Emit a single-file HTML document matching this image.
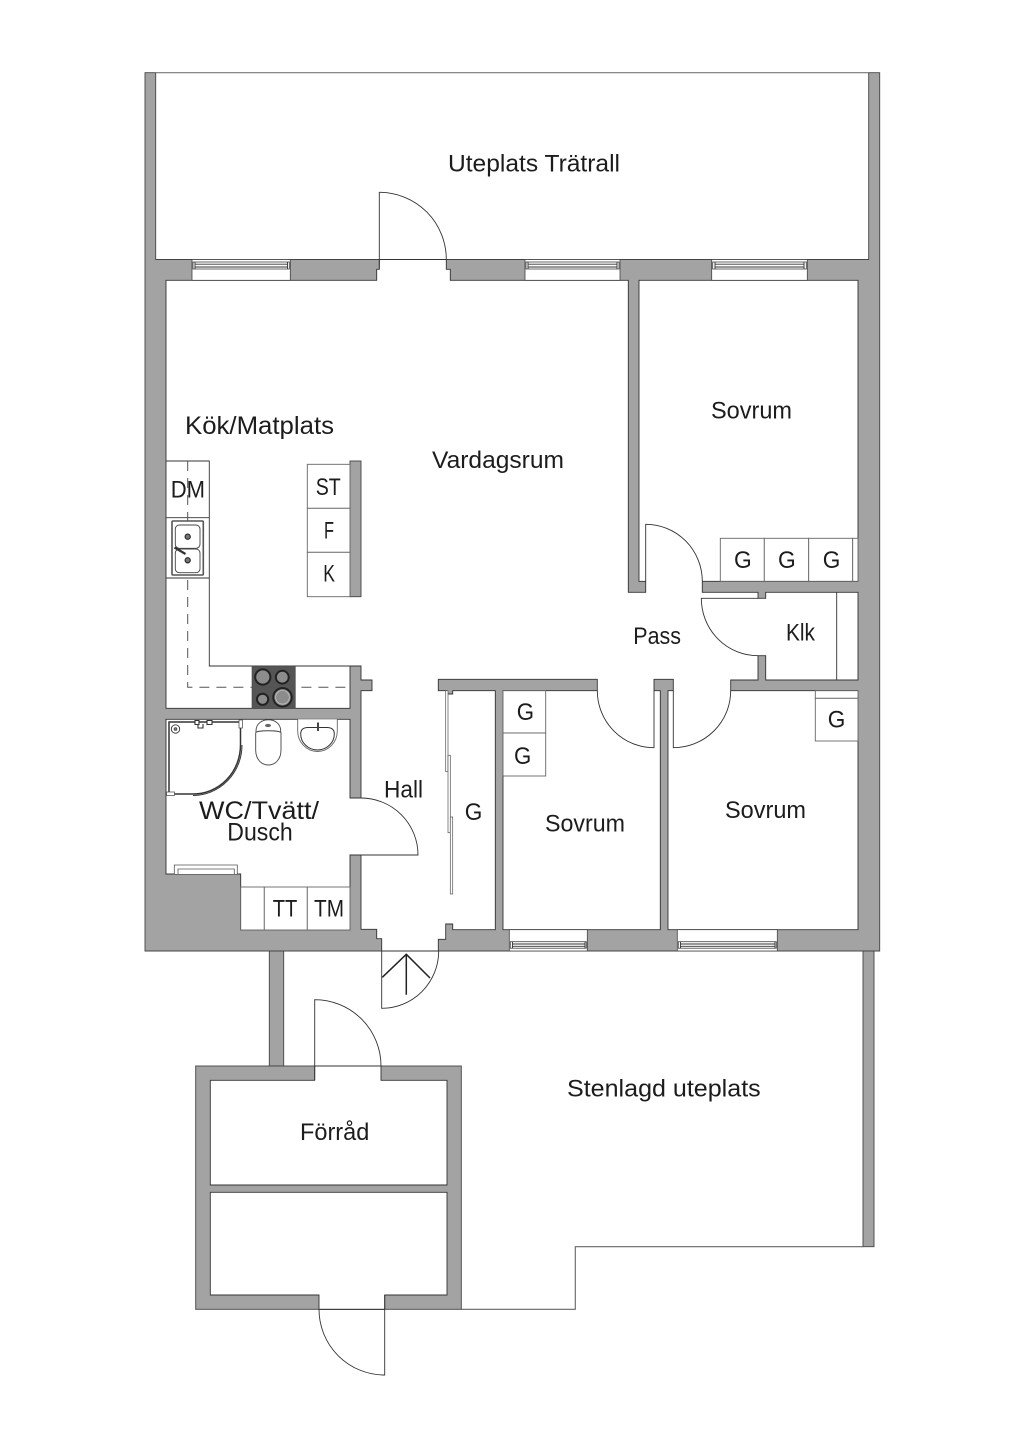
<!DOCTYPE html>
<html>
<head>
<meta charset="utf-8">
<style>
html,body{margin:0;padding:0;background:#fff;}
svg{display:block;}
text{font-family:"Liberation Sans",sans-serif;fill:#1c1c1c;font-size:24px;}
.w{fill:#a3a3a3;stroke:#444;stroke-width:.9;}
.r{fill:#fff;stroke:#333;stroke-width:.9;stroke-linejoin:miter;}
.d{fill:none;stroke:#333;stroke-width:.9;}
.c{fill:#fff;stroke:#666;stroke-width:.9;}
.s{fill:#fff;stroke:#444;stroke-width:.8;}
</style>
</head>
<body>
<svg width="1024" height="1448" viewBox="0 0 1024 1448" xmlns="http://www.w3.org/2000/svg">
<rect width="1024" height="1448" fill="#fff"/>

<!-- lower terrace walls -->
<rect class="w" x="269.3" y="951" width="14.4" height="115"/>
<rect class="w" x="863" y="951" width="11" height="295.7"/>
<path d="M461.3,1309.3H575.3V1246.7H863" fill="none" stroke="#666" stroke-width="1.1"/>

<!-- main building -->
<path class="w" d="M145,72.7H155.7V259.5H868.7V72.7H879.7V951H145Z"/>
<path d="M155.7,72.7H868.7" stroke="#777" stroke-width="1.2" fill="none"/>

<!-- interior -->
<path class="r" d="M166,280.3H376.7V269.3H379.3V259.5H446.3V269.3H450.3V280.3H628.3V592.3H645.7V581.3H639V280.3H858V581.3H702.3V592.3H758V598.3H765.7V592.3H858V680H765.7V655.7H758V680H730.7V690.7H858V929.7H668V690.7H673.3V679.3H654V690.7H660.3V929.7H503V690.7H597.3V679.3H438.3V690.7H446.7V694H452.7V690.7H495.3V929.7H452.7V924H445.7V939.3H438.3V951H381.7V938.7H376.7V929.3H361V855H350V930H240.7V874H166V719.3H350V798H361V690.7H372V680H361V666H350V708.3H166Z"/>

<!-- island wall -->
<rect class="w" x="350" y="461" width="11" height="135.7"/>

<!-- windows top -->
<g>
<rect class="s" x="192" y="259.5" width="98.3" height="20.8"/>
<rect class="s" x="193" y="262" width="96.3" height="7"/>
<path class="d" d="M195,264.2H287.5M195,267H287.5M195,262V269M287.5,262V269" stroke-width=".6"/>
<rect class="s" x="525" y="259.5" width="95" height="20.8"/>
<rect class="s" x="526" y="262" width="93" height="7"/>
<path class="d" d="M528,264.2H617M528,267H617M528,262V269M617,262V269" stroke-width=".6"/>
<rect class="s" x="711.7" y="259.5" width="95.6" height="20.8"/>
<rect class="s" x="712.7" y="262" width="93.6" height="7"/>
<path class="d" d="M715,264.2H804M715,267H804M715,262V269M804,262V269" stroke-width=".6"/>
</g>
<!-- windows bottom -->
<g>
<rect class="s" x="509.3" y="929.7" width="78" height="21.3"/>
<rect class="s" x="510.3" y="941.7" width="76" height="6.5"/>
<path class="d" d="M512.5,944H585M512.5,946.3H585M512.5,941.7V948M585,941.7V948" stroke-width=".6"/>
<rect class="s" x="677.3" y="929.7" width="100" height="21.3"/>
<rect class="s" x="678.3" y="941.7" width="98" height="6.5"/>
<path class="d" d="M680.5,944H775M680.5,946.3H775M680.5,941.7V948M775,941.7V948" stroke-width=".6"/>
</g>

<!-- doors -->
<path class="d" d="M379.3,269V192.3A67,67 0 0 1 446.3,259.5M379.3,259.5H446.3"/>
<path class="d" d="M645.7,581.3V524.3A56.6,57 0 0 1 702.3,581.3"/>
<path class="d" d="M758,598.3H701.3A56.7,57.4 0 0 0 758,655.7"/>
<path class="d" d="M597.3,690.7A56.7,57 0 0 0 654,747.7V690.7"/>
<path class="d" d="M730.7,690.7A57.4,57 0 0 1 673.3,747.7V690.7"/>
<path class="d" d="M350,798H361A57,57 0 0 1 418,855H350"/>
<path class="d" d="M381.7,951V1008.3A57,57.3 0 0 0 438.7,951M381.7,951H438.7"/>
<path d="M406.3,954V994.7M382.3,977.3L406.3,954.3L430,978" fill="none" stroke="#222" stroke-width="1.5"/>

<!-- sliding doors -->
<g fill="#fff" stroke="#555" stroke-width=".7">
<rect x="445.7" y="690.7" width="2.3" height="81"/>
<rect x="448" y="755.3" width="2.3" height="77.4"/>
<rect x="450.3" y="817" width="2.4" height="77"/>
</g>

<!-- kitchen counter -->
<path class="d" d="M166,461H209.3V666H350" stroke="#666"/>
<path class="d" d="M166,517.7H209.3M166,578H209.3" stroke="#666"/>
<path d="M187.7,461V687.3H350" fill="none" stroke="#555" stroke-width="1" stroke-dasharray="10,7"/>

<!-- sink -->
<rect x="172" y="521" width="31.3" height="54" rx="1" fill="#fff" stroke="#555" stroke-width="1.6"/>
<rect x="175.3" y="525" width="24.7" height="23.3" rx="4" fill="#fff" stroke="#444" stroke-width=".9"/>
<rect x="175.3" y="549" width="24.7" height="23.7" rx="4" fill="#fff" stroke="#444" stroke-width=".9"/>
<circle cx="187.7" cy="536.7" r="2.6" fill="#777" stroke="#222" stroke-width="1.1"/>
<circle cx="187.7" cy="560.3" r="2.6" fill="#777" stroke="#222" stroke-width="1.1"/>
<path d="M174.5,547.5L185.5,554" stroke="#333" stroke-width="2.2" fill="none"/>

<!-- stove -->
<rect x="252" y="666" width="43.3" height="42.3" fill="#555" stroke="#444" stroke-width=".6"/>
<g fill="#8c8c8c" stroke="#222" stroke-width="2">
<circle cx="262.8" cy="677" r="7.6"/>
<circle cx="282.3" cy="677.2" r="6.4"/>
<circle cx="262.6" cy="699.3" r="5.6"/>
<circle cx="282.5" cy="697.3" r="9.2"/>
</g>
<circle cx="282.5" cy="697.3" r="6.8" fill="none" stroke="#ccc" stroke-width=".6"/>

<!-- island cabinets -->
<rect class="c" x="307.3" y="464.3" width="42.7" height="44"/>
<rect class="c" x="307.3" y="508.3" width="42.7" height="44"/>
<rect class="c" x="307.3" y="552.3" width="42.7" height="44.4"/>

<!-- wardrobes -->
<rect class="c" x="720.3" y="538.3" width="44" height="43"/>
<rect class="c" x="764.3" y="538.3" width="44.4" height="43"/>
<rect class="c" x="808.7" y="538.3" width="44" height="43"/>
<rect class="c" x="852.7" y="538.3" width="5.3" height="43"/>
<rect class="c" x="815.3" y="690.7" width="42.7" height="7.6"/>
<rect class="c" x="815.3" y="698.3" width="42.7" height="42.7"/>
<rect class="c" x="503" y="690.7" width="42.7" height="42.3"/>
<rect class="c" x="503" y="733" width="42.7" height="43"/>
<path class="d" d="M836.7,592.3V680" stroke="#666"/>

<!-- laundry cabinets -->
<rect class="c" x="240.7" y="887" width="23.6" height="43"/>
<rect class="c" x="264.3" y="887" width="43" height="43"/>
<rect class="c" x="307.3" y="887" width="42.7" height="43"/>

<!-- WC small window -->
<path d="M174.3,874V865H237.3V874M178,874V869H234.3V874" fill="#fff" stroke="#555" stroke-width=".8"/>

<!-- shower -->
<path d="M169,722H240.5V745A47,49 0 0 1 193,794H169Z" fill="#fff" stroke="#333" stroke-width="1.5"/>
<path d="M242,745A49,50.5 0 0 1 193,795.5" fill="none" stroke="#333" stroke-width="1"/>
<rect x="166.5" y="792" width="8" height="3.5" fill="#fff" stroke="#444" stroke-width=".7"/>
<rect x="239" y="720" width="3.5" height="8" fill="#fff" stroke="#444" stroke-width=".7"/>
<circle cx="175.5" cy="729" r="4.2" fill="#fff" stroke="#333" stroke-width=".9"/>
<circle cx="175.5" cy="729" r="1.5" fill="#777" stroke="#333" stroke-width=".6"/>
<path d="M195,720.5H199V724.5H195ZM207,720.5H212V724.5H207ZM199,722H207M198,724V728H203V724" fill="#fff" stroke="#333" stroke-width="1.1"/>

<!-- toilet -->
<path d="M256,731C256,716 280.7,716 280.7,731V733H256Z" fill="#fff" stroke="#444" stroke-width=".9"/>
<path d="M255.7,733C255.7,730 281,730 281,733V750C281,770 255.7,770 255.7,750Z" fill="#fff" stroke="#444" stroke-width=".9"/>
<ellipse cx="268" cy="725.5" rx="3" ry="1.6" fill="#666"/>

<!-- basin -->
<path d="M297.7,719.3V731A19.8,20.5 0 0 0 337.3,731V719.3" fill="#fff" stroke="#666" stroke-width=".9"/>
<path d="M300.7,734Q300.7,727.5 308,727.5H327Q334.3,727.5 334.3,734A16.8,16 0 0 1 300.7,734Z" fill="#fff" stroke="#333" stroke-width="1"/>
<path d="M318,722.5V731" stroke="#444" stroke-width="2" fill="none"/>

<!-- storage -->
<rect class="w" x="195.7" y="1066" width="265.6" height="243.3"/>
<path class="r" d="M210.3,1080.3H314.7V1066H381V1080.3H447V1185H210.3Z"/>
<path class="r" d="M210.3,1192.3H447V1295H384.7V1309.3H319V1295H210.3Z"/>
<path class="d" d="M314.7,1080V999.7A66.3,66.3 0 0 1 381,1066M314.7,1066H381"/>
<path class="d" d="M384.7,1295V1375A65.7,65.7 0 0 1 319,1309.3M319,1309.3H384.7"/>

<!-- labels -->
<text x="448" y="171.7" textLength="172" lengthAdjust="spacingAndGlyphs">Uteplats Trätrall</text>
<text x="185" y="434" textLength="149" lengthAdjust="spacingAndGlyphs" style="font-size:25px">Kök/Matplats</text>
<text x="432" y="468" textLength="132" lengthAdjust="spacingAndGlyphs">Vardagsrum</text>
<text x="711" y="418.5" textLength="81" lengthAdjust="spacingAndGlyphs">Sovrum</text>
<text x="633.3" y="644" textLength="47.7" lengthAdjust="spacingAndGlyphs">Pass</text>
<text x="786" y="640.7" textLength="29" lengthAdjust="spacingAndGlyphs">Klk</text>
<text x="545" y="831.7" textLength="80" lengthAdjust="spacingAndGlyphs">Sovrum</text>
<text x="725" y="818" textLength="81" lengthAdjust="spacingAndGlyphs">Sovrum</text>
<text x="384" y="797.3" textLength="39" lengthAdjust="spacingAndGlyphs">Hall</text>
<text x="199" y="819" textLength="120" lengthAdjust="spacingAndGlyphs" style="font-size:25px">WC/Tvätt/</text>
<text x="227.3" y="840.3" textLength="65.4" lengthAdjust="spacingAndGlyphs" style="font-size:25px">Dusch</text>
<text x="272.7" y="916.7" textLength="24.6" lengthAdjust="spacingAndGlyphs">TT</text>
<text x="314" y="916.7" textLength="30" lengthAdjust="spacingAndGlyphs">TM</text>
<text x="170.7" y="497.7" textLength="34.3" lengthAdjust="spacingAndGlyphs">DM</text>
<text x="315.7" y="495" textLength="25" lengthAdjust="spacingAndGlyphs">ST</text>
<text x="324" y="538.3" textLength="10" lengthAdjust="spacingAndGlyphs">F</text>
<text x="323.3" y="581.7" textLength="11.7" lengthAdjust="spacingAndGlyphs">K</text>
<text x="516.7" y="720" textLength="17.3" lengthAdjust="spacingAndGlyphs">G</text>
<text x="514" y="764" textLength="17.3" lengthAdjust="spacingAndGlyphs">G</text>
<text x="464.7" y="820" textLength="17.6" lengthAdjust="spacingAndGlyphs">G</text>
<text x="734" y="568" textLength="17.7" lengthAdjust="spacingAndGlyphs">G</text>
<text x="778" y="568" textLength="17.7" lengthAdjust="spacingAndGlyphs">G</text>
<text x="822.7" y="568" textLength="17.6" lengthAdjust="spacingAndGlyphs">G</text>
<text x="827.7" y="727.3" textLength="17.6" lengthAdjust="spacingAndGlyphs">G</text>
<text x="300" y="1140" textLength="69.3" lengthAdjust="spacingAndGlyphs">Förråd</text>
<text x="567" y="1096.7" textLength="193.7" lengthAdjust="spacingAndGlyphs">Stenlagd uteplats</text>
</svg>
</body>
</html>
